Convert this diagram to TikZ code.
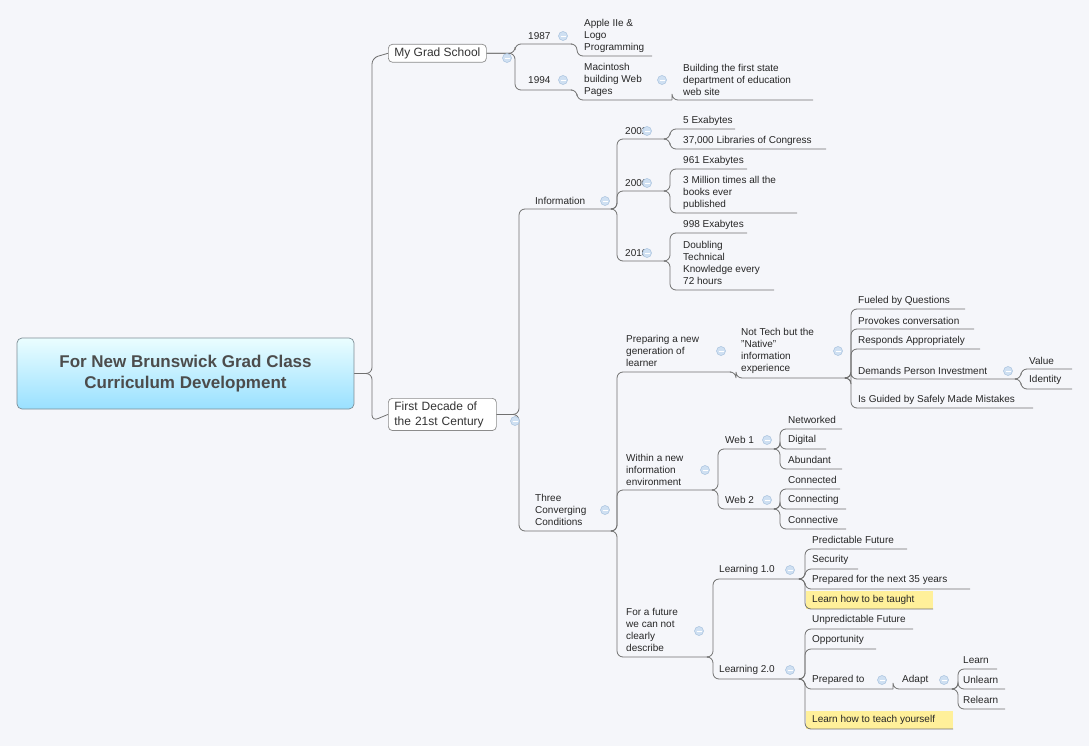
\documentclass[tikz,border=0pt]{standalone}
\usepackage{fontspec}
\setmainfont{Liberation Sans}
\definecolor{bg}{HTML}{F5F6FA}
\definecolor{ln}{HTML}{707070}
\definecolor{hl}{HTML}{FFF09A}
\definecolor{cf}{HTML}{CFE0F2}
\definecolor{cd}{HTML}{A8C2DE}
\tikzset{
 conn/.style={draw=ln,line width=0.8pt,rounded corners=6pt},
 lbl/.style={anchor=west,inner sep=0pt,align=left,font=\fontsize{10}{12}\selectfont,text=black!85},
 topbox/.style={draw=black!45,fill=white,rounded corners=4pt,line width=0.7pt,align=left,font=\fontsize{12}{15}\selectfont,text=black!80,inner xsep=6pt,anchor=north west},
}
\newcommand\tn[7]{\node[lbl] (#1) at (#2,#3) {#7};
 \coordinate (#1-L) at (#5,#4); \coordinate (#1-R) at (#6,#4);}
\newcommand\cn[2]{\draw[conn] (#1-R) -| (#2-L) -- (#2-R);}
\newcommand\hlt[3]{\fill[hl] (806,#2-9) rectangle (#3,#2+9);}
\newcommand\col[2]{\filldraw[fill=cf,draw=cd,line width=0.5pt] (#1,#2) circle (4.5);
 \draw[white,line width=0.9pt] (#1-2.5,#2) -- (#1+2.5,#2);}
\begin{document}
\begin{tikzpicture}[x=1pt,y=-1pt]
\useasboundingbox (0,0) rectangle (1089,746);
\fill[bg] (0,0) rectangle (1089,746);
% root
\node[draw=black!40!cyan!30!gray,line width=0.7pt,rounded corners=5pt,minimum width=337pt,minimum height=71pt,
 top color=blue!8!cyan!8,bottom color=blue!30!cyan!40,inner sep=0pt,align=center,
 font=\fontsize{17}{21}\selectfont\bfseries,text=black!70] (root) at (185.5,373.5)
 {For New Brunswick Grad Class\\Curriculum Development};
\coordinate (root-R) at (root.east);
\node[topbox] (gs) at (388,44) {My Grad School};
\coordinate (gs-L) at (372,58); \coordinate (gs-R) at (gs.east);
\node[topbox,text width=96pt,inner ysep=3pt] (fd) at (388,398) {First Decade of\\the 21st Century};
\coordinate (fd-L) at (372,421); \coordinate (fd-R) at (fd.east);
\draw[conn] (root-R) -| (gs-L) -- (gs.west);
\draw[conn] (root-R) -| (fd-L) -- (fd.west);
% grad school
\tn{y87}{528}{36}{44}{515}{572}{1987}
\tn{apple}{584}{36}{56}{577}{652}{Apple IIe \&\\Logo\\Programming}
\tn{y94}{528}{80}{90}{515}{572}{1994}
\tn{mac}{584}{80}{100}{577}{672}{Macintosh\\building Web\\Pages}
\tn{bld}{683}{80}{100}{672}{813}{Building the first state\\department of education\\web site}
\cn{gs}{y87}\cn{gs}{y94}\cn{y87}{apple}\cn{y94}{mac}\cn{mac}{bld}
% information
\tn{info}{535}{201}{209}{519}{612}{Information}
\tn{d02}{625}{131}{139}{617}{665}{2002}
\tn{a5}{683}{121}{129}{670}{735}{5 Exabytes}
\tn{a37}{683}{141}{149}{670}{826}{37,000 Libraries of Congress}
\tn{d06}{625}{183}{191}{617}{665}{2006}
\tn{a961}{683}{161}{169}{670}{747}{961 Exabytes}
\tn{a3m}{683}{193}{213}{670}{797}{3 Million times all the\\books ever\\published}
\tn{d10}{625}{253}{261}{617}{665}{2010}
\tn{a998}{683}{225}{233}{670}{747}{998 Exabytes}
\tn{adbl}{683}{263}{290}{670}{774}{Doubling\\Technical\\Knowledge every\\72 hours}
\cn{fd}{info}\cn{info}{d02}\cn{info}{d06}\cn{info}{d10}
\cn{d02}{a5}\cn{d02}{a37}\cn{d06}{a961}\cn{d06}{a3m}\cn{d10}{a998}\cn{d10}{adbl}
% three
\tn{three}{535}{510}{531}{519}{612}{Three\\Converging\\Conditions}
\cn{fd}{three}
\tn{prep}{626}{351}{372}{617}{731}{Preparing a new\\generation of\\learner}
\tn{nat}{741}{351}{378}{736}{846}{Not Tech but the\\"Native"\\information\\experience}
\tn{fq}{858}{301}{309}{851}{965}{Fueled by Questions}
\tn{pc}{858}{321}{329}{851}{974}{Provokes conversation}
\tn{ra}{858}{341}{349}{851}{980}{Responds Appropriately}
\tn{dpi}{858}{371}{379}{851}{1016}{Demands Person Investment}
\tn{val}{1029}{361}{369}{1021}{1072}{Value}
\tn{idn}{1029}{380}{389}{1021}{1072}{Identity}
\tn{gsm}{858}{400}{408}{851}{1033}{Is Guided by Safely Made Mistakes}
\cn{three}{prep}\cn{prep}{nat}\cn{nat}{fq}\cn{nat}{pc}\cn{nat}{ra}\cn{nat}{dpi}\cn{nat}{gsm}
\cn{dpi}{val}\cn{dpi}{idn}
\tn{wit}{626}{470}{490}{617}{713}{Within a new\\information\\environment}
\tn{w1}{725}{440}{449}{718}{775}{Web 1}
\tn{net}{788}{420}{429}{780}{842}{Networked}
\tn{dig}{788}{440}{449}{780}{826}{Digital}
\tn{abd}{788}{460}{469}{780}{842}{Abundant}
\tn{w2}{725}{500}{509}{718}{775}{Web 2}
\tn{cod}{788}{480}{489}{780}{840}{Connected}
\tn{cog}{788}{500}{509}{780}{846}{Connecting}
\tn{cov}{788}{520}{529}{780}{846}{Connective}
\cn{three}{wit}\cn{wit}{w1}\cn{wit}{w2}
\cn{w1}{net}\cn{w1}{dig}\cn{w1}{abd}\cn{w2}{cod}\cn{w2}{cog}\cn{w2}{cov}
\tn{fut}{626}{630}{657}{617}{708}{For a future\\we can not\\clearly\\describe}
\tn{l1}{719}{570}{579}{713}{800}{Learning 1.0}
\tn{l2}{719}{670}{679}{713}{800}{Learning 2.0}
\cn{three}{fut}\cn{fut}{l1}\cn{fut}{l2}
\hlt{lht}{600}{933}
\hlt{lty}{720}{953}
\tn{pf}{812}{540}{549}{805}{907}{Predictable Future}
\tn{sec}{812}{560}{569}{805}{858}{Security}
\tn{p35}{812}{580}{589}{805}{970}{Prepared for the next 35 years}
\tn{lht}{812}{600}{609}{805}{933}{Learn how to be taught}
\cn{l1}{pf}\cn{l1}{sec}\cn{l1}{p35}\cn{l1}{lht}
\tn{uf}{812}{620}{629}{805}{913}{Unpredictable Future}
\tn{opp}{812}{640}{649}{805}{876}{Opportunity}
\tn{pto}{812}{680}{689}{805}{893}{Prepared to}
\tn{adp}{902}{680}{689}{893}{953}{Adapt}
\tn{lrn}{963}{660}{669}{958}{997}{Learn}
\tn{ulr}{963}{680}{689}{958}{1005}{Unlearn}
\tn{rlr}{963}{700}{709}{958}{1005}{Relearn}
\tn{lty}{812}{720}{729}{805}{953}{Learn how to teach yourself}
\cn{l2}{uf}\cn{l2}{opp}\cn{l2}{pto}\cn{l2}{lty}\cn{pto}{adp}
\cn{adp}{lrn}\cn{adp}{ulr}\cn{adp}{rlr}
% collapse markers
\col{507}{58}\col{563}{36}\col{563}{80}\col{662}{80}
\col{515}{421}\col{605}{201}\col{647}{131}\col{647}{183}\col{647}{253}
\col{605}{510}\col{721}{351}\col{838}{351}\col{1008}{371}
\col{705}{470}\col{767}{440}\col{767}{500}
\col{699}{631}\col{790}{570}\col{790}{670}\col{882}{680}\col{944}{680}
\end{tikzpicture}
\end{document}
